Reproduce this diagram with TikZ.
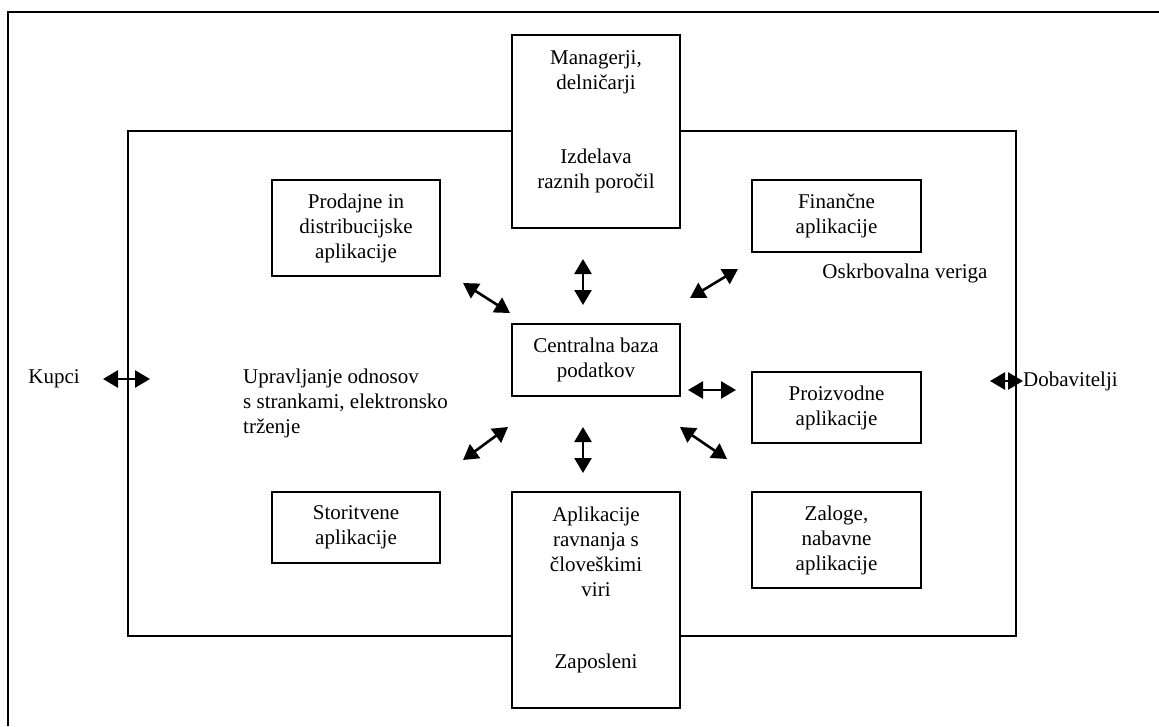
\documentclass[tikz,border=0pt]{standalone}
\usepackage{fontspec}
\setmainfont{Liberation Serif}
\usetikzlibrary{arrows.meta}
\tikzset{
  box/.style={draw, line width=1.5pt, fill=white, inner sep=0pt},
  txt/.style={align=center, inner sep=0pt, font=\fontsize{21}{25}\selectfont},
  link/.style={line width=2.6pt, {Triangle[length=15pt,width=17pt]}-{Triangle[length=15pt,width=17pt]}},
  frame/.style={line width=1.5pt}
}
\begin{document}
\begin{tikzpicture}[x=1pt,y=-1pt]
\useasboundingbox (0,0) rectangle (1159,726);
% outer page frame
\coordinate (fa) at (8,726);
\coordinate (fb) at (8,12);
\coordinate (fc) at (1159,12);
\draw[frame] (fa) -- (fb) -- (fc);
% enterprise boundary
\node[draw, frame, minimum width=888pt, minimum height=505pt, inner sep=0pt] (firm) at (572,383.5) {};
% boxes
\node[box, minimum width=168pt, minimum height=193pt] (top) at (596,131.5) {};
\node[box, minimum width=168pt, minimum height=216pt] (bot) at (596,600) {};
\node[box, minimum width=168pt, minimum height=72pt] (db) at (596,360) {};
\node[box, minimum width=168pt, minimum height=96pt] (prod) at (356,228) {};
\node[box, minimum width=169pt, minimum height=72pt] (fin) at (836.5,216) {};
\node[box, minimum width=169pt, minimum height=71pt] (proiz) at (836.5,407.5) {};
\node[box, minimum width=169pt, minimum height=96pt] (zal) at (836.5,540) {};
\node[box, minimum width=168pt, minimum height=71pt] (stor) at (356,527.5) {};
% labels
\node[txt] (t1) at (596,72.5) {Managerji,\\delničarji};
\node[txt] (t2) at (596,170.5) {Izdelava\\raznih poročil};
\node[txt] (t3) at (596,552) {Aplikacije\\ravnanja s\\človeškimi\\viri};
\node[txt] (t4) at (596,663) {Zaposleni};
\node[txt] (t5) at (596,360) {Centralna baza\\podatkov};
\node[txt] (t6) at (356,228) {Prodajne in\\distribucijske\\aplikacije};
\node[txt] (t7) at (836.5,216) {Finančne\\aplikacije};
\node[txt] (t8) at (836.5,407.5) {Proizvodne\\aplikacije};
\node[txt] (t9) at (836.5,540) {Zaloge,\\nabavne\\aplikacije};
\node[txt] (t10) at (356,527.5) {Storitvene\\aplikacije};
\node[txt] (t11) at (905,273) {Oskrbovalna veriga};
\node[txt, align=left, anchor=west] (t12) at (243,403) {Upravljanje odnosov\\s strankami, elektronsko\\trženje};
\node[txt] (kup) at (54,379) {Kupci};
\node[txt, anchor=west] (dob) at (1023,381) {Dobavitelji};
% arrow end points
\coordinate (a1) at (583,259); \coordinate (b1) at (583,305);
\coordinate (a2) at (463,283); \coordinate (b2) at (510,313);
\coordinate (a3) at (690,298); \coordinate (b3) at (738,269);
\coordinate (a4) at (688,390); \coordinate (b4) at (736,390);
\coordinate (a5) at (463,460); \coordinate (b5) at (508,427);
\coordinate (a6) at (583,427); \coordinate (b6) at (583,473);
\coordinate (a7) at (680,427); \coordinate (b7) at (727,459);
\coordinate (a8) at (103,379); \coordinate (b8) at (150,379);
\coordinate (a9) at (990,381); \coordinate (b9) at (1023,381);
\foreach \i in {1,...,9} \draw[link] (a\i) -- (b\i);
\end{tikzpicture}
\end{document}
